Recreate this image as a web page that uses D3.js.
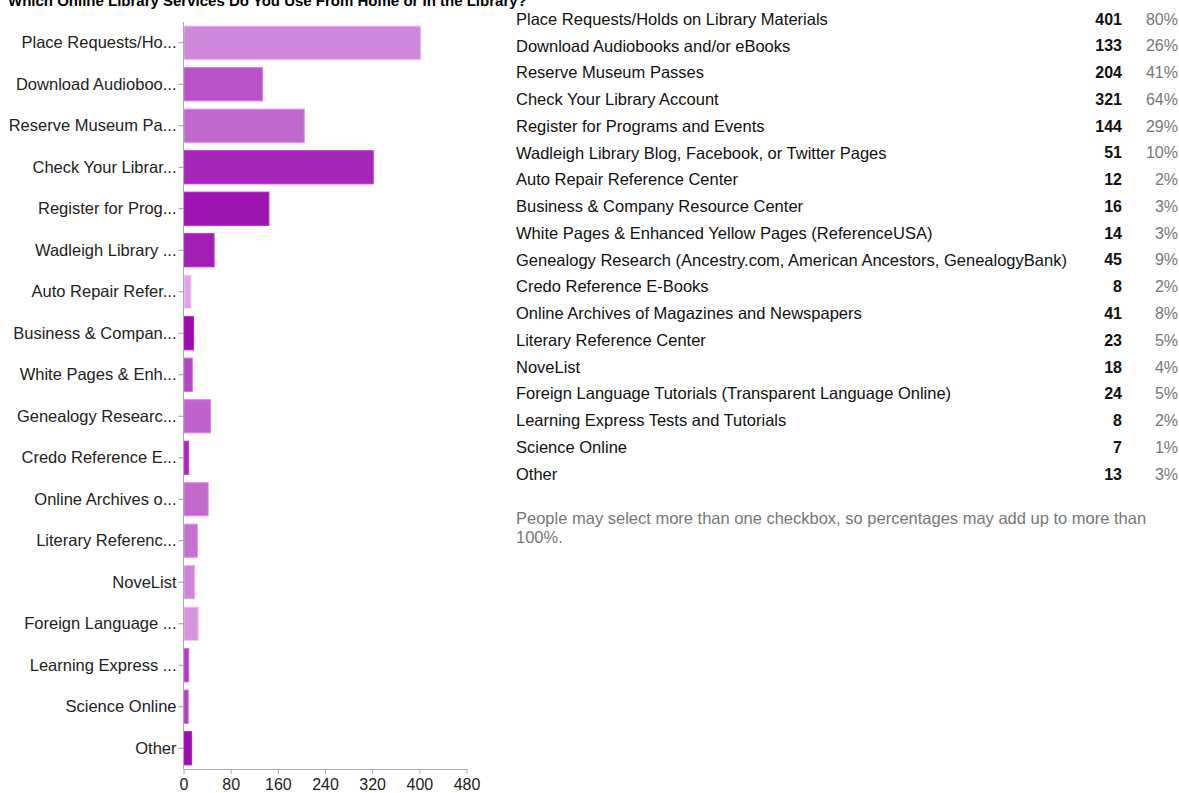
<!DOCTYPE html>
<html>
<head>
<meta charset="utf-8">
<script src="https://cdn.jsdelivr.net/npm/d3@7"></script>
<style>
  html, body { margin: 0; padding: 0; background: #fff; }
  svg { display: block; font-family: "Liberation Sans", Arial, Helvetica, sans-serif; }
</style>
</head>
<body>
<svg id="chart" width="1179" height="793"></svg>
<script>
const title = "Which Online Library Services Do You Use From Home or In the Library?";
const categories = [
  "Place Requests/Holds on Library Materials",
  "Download Audiobooks and/or eBooks",
  "Reserve Museum Passes",
  "Check Your Library Account",
  "Register for Programs and Events",
  "Wadleigh Library Blog, Facebook, or Twitter Pages",
  "Auto Repair Reference Center",
  "Business & Company Resource Center",
  "White Pages & Enhanced Yellow Pages (ReferenceUSA)",
  "Genealogy Research (Ancestry.com, American Ancestors, GenealogyBank)",
  "Credo Reference E-Books",
  "Online Archives of Magazines and Newspapers",
  "Literary Reference Center",
  "NoveList",
  "Foreign Language Tutorials (Transparent Language Online)",
  "Learning Express Tests and Tutorials",
  "Science Online",
  "Other"
];
const shortLabels = [
  "Place Requests/Ho...", "Download Audioboo...", "Reserve Museum Pa...", "Check Your Librar...",
  "Register for Prog...", "Wadleigh Library ...", "Auto Repair Refer...", "Business & Compan...",
  "White Pages & Enh...", "Genealogy Researc...", "Credo Reference E...", "Online Archives o...",
  "Literary Referenc...", "NoveList", "Foreign Language ...", "Learning Express ...",
  "Science Online", "Other"
];
const counts = [401, 133, 204, 321, 144, 51, 12, 16, 14, 45, 8, 41, 23, 18, 24, 8, 7, 13];
const percents = ["80%", "26%", "41%", "64%", "29%", "10%", "2%", "3%", "3%", "9%", "2%", "8%", "5%", "4%", "5%", "2%", "1%", "3%"];
const barColors = [
  "#cd88d9", "#b753c6", "#c069cd", "#a526b8", "#9e14b0", "#a01eb2",
  "#dba6e3", "#9c0caf", "#b347c3", "#bf62cc", "#a829b9", "#c06acc",
  "#c472cf", "#cc85d7", "#d494de", "#b23fc2", "#b23fc2", "#9c0caf"
];
const xTicks = [0, 80, 160, 240, 320, 400, 480];
const note = ["People may select more than one checkbox, so percentages may add up to more than", "100%."];

const svg = d3.select("#chart");

svg.append("text")
  .attr("x", 8).attr("y", 6)
  .attr("font-size", 15).attr("font-weight", "bold").attr("fill", "#000")
  .text(title);

const x = d3.scaleLinear().domain([0, 480]).range([183.5, 466.5]);
const y = d3.scaleBand().domain(d3.range(categories.length)).range([22, 769]).paddingInner(0.2).paddingOuter(0.1);

// bars
svg.append("g").selectAll("rect")
  .data(counts)
  .join("rect")
  .attr("x", x(0) + 0.5)
  .attr("y", (d, i) => y(i))
  .attr("width", d => Math.max(0, x(d) - x(0)))
  .attr("height", y.bandwidth())
  .attr("fill", (d, i) => barColors[i])
  .attr("stroke", (d, i) => d3.color(barColors[i]).brighter(0.6))
  .attr("stroke-width", 1);

// y axis
const yAxis = d3.axisLeft(y).tickSize(5).tickPadding(2).tickFormat(i => shortLabels[i]);
const gy = svg.append("g").attr("transform", `translate(${x(0)},0)`).call(yAxis);
gy.select(".domain").attr("stroke", "#aaa").attr("d", `M0,22V769`);
gy.selectAll(".tick line").attr("stroke", "#999");
gy.selectAll(".tick text").attr("font-size", 16.5).attr("fill", "#222")
  .attr("font-family", "'Liberation Sans', Arial, sans-serif");

// x axis
const xAxis = d3.axisBottom(x).tickValues(xTicks).tickSize(5).tickPadding(5).tickSizeOuter(0);
const gx = svg.append("g").attr("transform", `translate(0,769)`).call(xAxis);
gx.select(".domain").attr("stroke", "#aaa");
gx.selectAll(".tick line").attr("stroke", "#aaa");
gx.selectAll(".tick text").attr("font-size", 16).attr("fill", "#222")
  .attr("font-family", "'Liberation Sans', Arial, sans-serif");

// table
const rowY = d3.scalePoint().domain(d3.range(categories.length)).range([19, 474]);
const tbl = svg.append("g").attr("font-size", 16.5);
tbl.selectAll("text.lab").data(categories).join("text")
  .attr("class", "lab")
  .attr("x", 516).attr("y", (d, i) => rowY(i)).attr("dy", "0.35em")
  .attr("fill", "#111").text(d => d);
tbl.selectAll("text.cnt").data(counts).join("text")
  .attr("class", "cnt")
  .attr("x", 1122).attr("y", (d, i) => rowY(i)).attr("dy", "0.35em")
  .attr("font-size", 16)
  .attr("text-anchor", "end").attr("font-weight", "bold").attr("fill", "#111").text(d => d);
tbl.selectAll("text.pct").data(percents).join("text")
  .attr("class", "pct")
  .attr("x", 1178).attr("y", (d, i) => rowY(i)).attr("dy", "0.35em")
  .attr("font-size", 16)
  .attr("text-anchor", "end").attr("fill", "#777").text(d => d);

svg.append("g").attr("font-size", 16.5).attr("fill", "#777")
  .selectAll("text").data(note).join("text")
  .attr("x", 516).attr("y", (d, i) => 518 + i * 19).attr("dy", "0.35em")
  .text(d => d);
</script>
</body>
</html>
